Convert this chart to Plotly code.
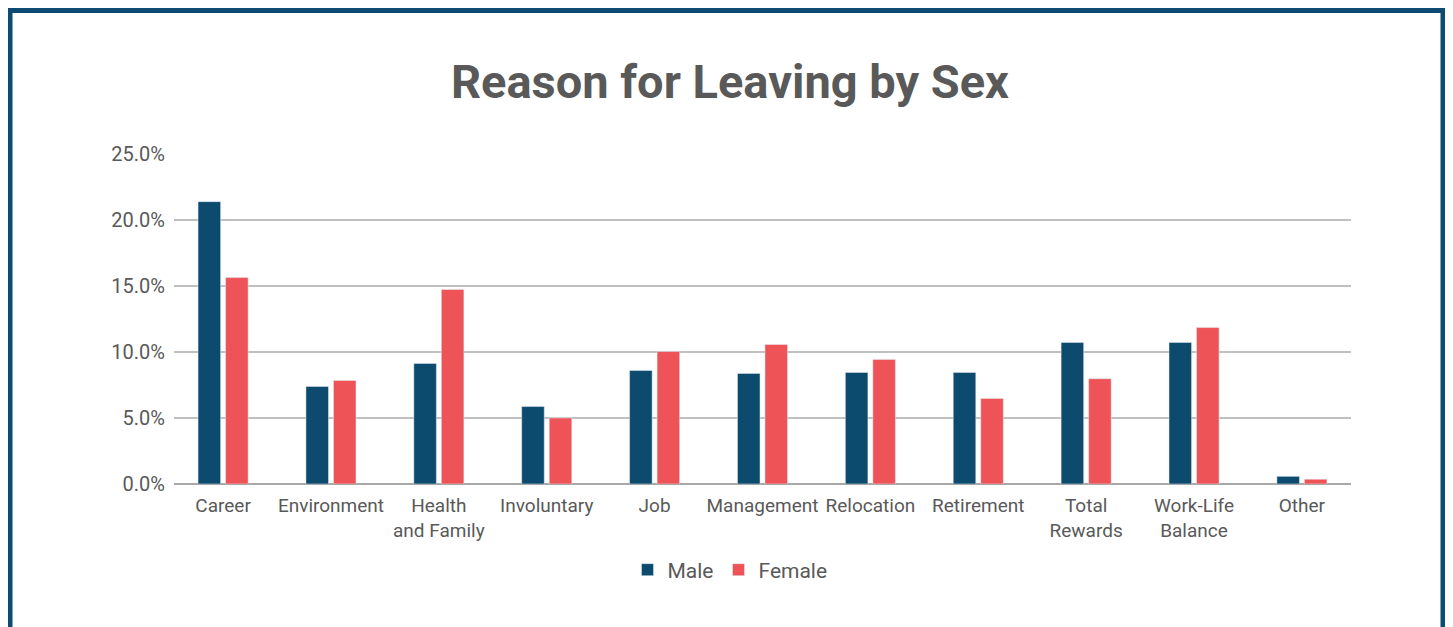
import plotly.graph_objects as go

categories = ["Career", "Environment", "Health<br>and Family", "Involuntary", "Job",
              "Management", "Relocation", "Retirement", "Total<br>Rewards",
              "Work-Life<br>Balance", "Other"]
male = [21.37, 7.38, 9.12, 5.86, 8.59, 8.37, 8.44, 8.44, 10.71, 10.71, 0.58]
female = [15.62, 7.84, 14.72, 5.0, 10.03, 10.56, 9.43, 6.48, 7.97, 11.84, 0.36]
y_ticks = [0, 5, 10, 15, 20, 25]
y_tick_text = [f"{v:.1f}%" for v in y_ticks]

# page body has an 8px margin; all positions below are given in page pixels
OFF = 8
PAGE_W, PAGE_H = 1453, 627
W, H = PAGE_W - OFF, PAGE_H - OFF
PL, PR, PT, PB = 174, 1351, 153, 484          # plot area edges on the page
L, R, T, B = PL - OFF, W - (PR - OFF), PT - OFF, H - (PB - OFF)
pw, ph = W - L - R, H - T - B

def px(x):
    return (x - OFF - L) / pw

def py(y):
    return (H - B - (y - OFF)) / ph

NAVY = "#0C4A6E"
RED = "#EE5457"
GRAY = "#595959"
FONT = "Roboto"

fig = go.Figure()
fig.add_trace(go.Bar(name="Male", x=categories, y=male, marker_color=NAVY))
fig.add_trace(go.Bar(name="Female", x=categories, y=female, marker_color=RED))

fig.update_layout(
    width=W, height=H,
    margin=dict(l=L, r=R, t=T, b=B, autoexpand=False),
    paper_bgcolor="white", plot_bgcolor="white",
    barmode="group", bargap=0.49, bargroupgap=0.18,
    font=dict(family=FONT, color=GRAY, size=19),
    title=dict(text="<b>Reason for Leaving by Sex</b>", x=px(730), xanchor="center",
               xref="paper",
               y=1 - (82 - OFF) / H, yanchor="middle",
               font=dict(family=FONT, size=47, color=GRAY)),
    showlegend=True,
    legend=dict(orientation="h", x=px(730), xanchor="center", y=py(570), yanchor="middle",
                font=dict(family=FONT, size=21, color=GRAY), itemwidth=30,
                traceorder="normal"),
    yaxis=dict(range=[0, 25.05], tickvals=y_ticks, ticktext=y_tick_text,
               showgrid=True, gridcolor="#C0C0C0", gridwidth=1.5,
               zeroline=True, zerolinecolor="#A8A8A8", zerolinewidth=2,
               showline=False, ticks="", ticklabelstandoff=8,
               tickfont=dict(family=FONT, size=20, color=GRAY)),
    xaxis=dict(range=[-0.455, 10.455], showgrid=False, showline=False, ticks="",
               ticklabelstandoff=8,
               tickfont=dict(family=FONT, size=19, color=GRAY)),
    shapes=[dict(type="rect", xref="paper", yref="paper",
                 x0=px(10), x1=px(1443), y0=py(680), y1=py(10.5),
                 line=dict(color="#0D4B72", width=5), fillcolor="rgba(0,0,0,0)",
                 layer="above")],
)

fig.write_html("out.html")
